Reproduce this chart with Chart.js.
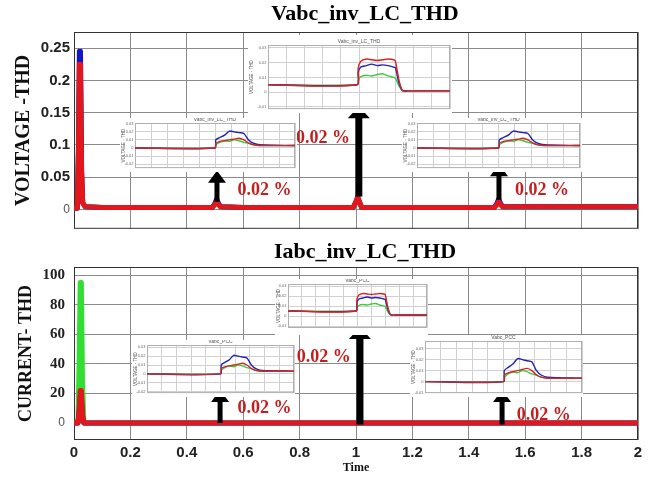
<!DOCTYPE html>
<html>
<head>
<meta charset="utf-8">
<script src="https://cdn.jsdelivr.net/npm/chart.js@4.4.0/dist/chart.umd.min.js"></script>
<style>
  body { margin: 0; background: #fff; }
  #wrap { position: relative; width: 653px; height: 477px; overflow: hidden; }
  #wrap canvas { position: absolute; left: 0; }
  #wrap canvas.inset { background: #fff; }
</style>
</head>
<body>
<div id="wrap">
  <canvas id="voltChart" width="653" height="240" style="top:0"></canvas>
  <canvas id="currChart" width="653" height="237" style="top:240px"></canvas>
</div>
<script>
// shared time axis ticks (s)
const timeTicks = [0, 0.2, 0.4, 0.6, 0.8, 1, 1.2, 1.4, 1.6, 1.8, 2];

// voltage THD, three phases
const voltTime  = [0, 0.012, 0.016, 0.019, 0.023, 0.027, 0.031, 0.04, 0.1, 0.49, 0.5, 0.506, 0.512, 0.52, 0.6, 0.99, 1.0, 1.006, 1.012, 1.02, 1.1, 1.49, 1.5, 1.506, 1.512, 1.52, 2];
const voltRed   = [0.002, 0.002, 0.1, 0.225, 0.225, 0.06, 0.01, 0.004, 0.003, 0.003, 0.008, 0.012, 0.008, 0.004, 0.003, 0.003, 0.012, 0.02, 0.012, 0.003, 0.003, 0.003, 0.008, 0.012, 0.008, 0.004, 0.004];
const voltBlue  = [0.002, 0.002, 0.1, 0.245, 0.245, 0.06, 0.01, 0.004, 0.003, 0.003, 0.01, 0.016, 0.01, 0.004, 0.003, 0.003, 0.012, 0.019, 0.012, 0.003, 0.003, 0.003, 0.01, 0.016, 0.01, 0.004, 0.004];
const voltGreen = [0.002, 0.002, 0.09, 0.2, 0.2, 0.05, 0.01, 0.004, 0.003, 0.003, 0.007, 0.011, 0.007, 0.004, 0.003, 0.003, 0.011, 0.018, 0.011, 0.003, 0.003, 0.003, 0.007, 0.011, 0.007, 0.004, 0.004];
const voltTicks = [0, 0.05, 0.1, 0.15, 0.2, 0.25];

// current THD, three phases
const currTime  = [0, 0.014, 0.018, 0.022, 0.026, 0.03, 0.035, 2];
const currRed   = [0, 0, 8, 22, 22, 6, 0, 0];
const currBlue  = [0, 0, 7, 18, 18, 5, 0, 0];
const currGreen = [0, 0, 40, 95, 95, 30, 0, 0];
const currTicks = [0, 20, 40, 60, 80, 100];

// arrows and "0.02 %" notes (time, base level, tip level)
const noteText = '0.02 %';
const voltArrowTime = [0.507, 1.01, 1.507];
const voltArrowBase = [0.012, 0.02, 0.015];
const voltArrowTip  = [0.06, 0.16, 0.07];
const voltNoteTime  = [0.58, 0.787, 1.564];
const voltNoteLevel = [0.03, 0.11, 0.03];
const currArrowTime = [0.518, 1.014, 1.518];
const currArrowBase = [0, -1, -1];
const currArrowTip  = [22.3, 65, 22.3];
const currNoteTime  = [0.58, 0.79, 1.57];
const currNoteLevel = [10, 44.6, 5.4];

// zoomed views: square pulse (middle) and transient bump (sides), normalised time
const pulseX     = [0, 0.49, 0.495, 0.51, 0.54, 0.57, 0.6, 0.63, 0.66, 0.69, 0.7, 0.72, 0.74, 0.78, 1];
const pulseRed   = [0.005, 0.005, 0.016, 0.021, 0.0225, 0.022, 0.0215, 0.022, 0.0225, 0.022, 0.021, 0.008, 0.001, 0.001, 0.001];
const pulseBlue  = [0.005, 0.005, 0.013, 0.017, 0.018, 0.019, 0.018, 0.0185, 0.018, 0.017, 0.0165, 0.006, 0.001, 0.001, 0.001];
const pulseGreen = [0.005, 0.005, 0.008, 0.0105, 0.0115, 0.011, 0.012, 0.0125, 0.011, 0.01, 0.0095, 0.004, 0.001, 0.001, 0.001];
const bumpX      = [0, 0.5, 0.505, 0.53, 0.56, 0.59, 0.62, 0.65, 0.68, 0.71, 0.74, 0.78, 1];
const bumpRed    = [0, 0, 0.006, 0.008, 0.009, 0.01, 0.011, 0.012, 0.01, 0.006, 0.004, 0.003, 0.003];
const bumpBlue   = [0, 0, 0.01, 0.013, 0.016, 0.021, 0.02, 0.019, 0.018, 0.01, 0.006, 0.004, 0.003];
const bumpGreen  = [0, 0, 0.004, 0.007, 0.009, 0.008, 0.01, 0.009, 0.007, 0.006, 0.004, 0.003, 0.003];
const zoomTicks  = [-0.02, -0.01, 0, 0.01, 0.02, 0.03];

const RED = '#e3161c', BLUE = '#1414c8', GREEN = '#33dd33';
const serif = '"Liberation Serif", "Times New Roman", serif';
const sans = '"Liberation Sans", Arial, sans-serif';

function points(xs, ys) {
    return xs.map((x, i) => ({ x: x, y: ys[i] }));
}

function drawArrow(ctx, x, yBase, yTip, shaft, half, headLen) {
    ctx.fillStyle = '#000';
    ctx.fillRect(x - shaft / 2, yTip + headLen - 1, shaft, yBase - yTip - headLen + 1);
    ctx.beginPath();
    ctx.moveTo(x, yTip);
    ctx.lineTo(x + half, yTip + headLen);
    ctx.lineTo(x - half, yTip + headLen);
    ctx.closePath();
    ctx.fill();
}

// frame, title, arrows and notes on the main plots
const decorPlugin = {
    id: 'decor',
    beforeDatasetsDraw(chart) {
        const { ctx, chartArea: a } = chart;
        ctx.save();
        ctx.strokeStyle = '#333';
        ctx.lineWidth = 1;
        ctx.strokeRect(a.left + 0.5, a.top + 0.5, a.width - 1, a.height - 1);
        ctx.restore();
    },
    afterDatasetsDraw(chart, args, opts) {
        const { ctx, scales: { x, y } } = chart;
        ctx.save();
        opts.arrowTime.forEach((t, i) => {
            const big = i === 1;
            drawArrow(ctx, x.getPixelForValue(t), y.getPixelForValue(opts.arrowBase[i]),
                y.getPixelForValue(opts.arrowTip[i]), big ? 7 : 5, big ? 11 : 9, 12);
        });
        ctx.fillStyle = '#c41e1e';
        ctx.font = 'bold 18px ' + serif;
        ctx.textBaseline = 'middle';
        opts.noteTime.forEach((t, i) => {
            ctx.fillText(noteText, x.getPixelForValue(t), y.getPixelForValue(opts.noteLevel[i]));
        });
        ctx.fillStyle = '#000';
        ctx.font = 'bold 22px ' + serif;
        ctx.textAlign = 'center';
        ctx.fillText(opts.title, 365, opts.titleY);
        ctx.restore();
    }
};

function mainChart(id, cfg) {
    const tickFont = ctx => (ctx.tick && ctx.tick.value === 0)
        ? { family: sans, size: 12 }
        : { family: cfg.tickFamily, size: 15, weight: 'bold' };
    return new Chart(document.getElementById(id), {
        type: 'line',
        data: {
            datasets: [
                { data: points(cfg.time, cfg.red), borderColor: RED },
                { data: points(cfg.time, cfg.blue), borderColor: BLUE },
                { data: points(cfg.time, cfg.green), borderColor: GREEN }
            ]
        },
        options: {
            responsive: false,
            animation: false,
            layout: { padding: { top: cfg.padTop, right: 15, bottom: cfg.padBottom, left: 0 } },
            elements: {
                point: { radius: 0 },
                line: { borderWidth: 5, tension: 0, borderJoinStyle: 'round', borderCapStyle: 'round' }
            },
            plugins: {
                legend: { display: false },
                tooltip: { enabled: false },
                decor: {
                    title: cfg.title, titleY: cfg.titleY,
                    arrowTime: cfg.arrowTime, arrowBase: cfg.arrowBase, arrowTip: cfg.arrowTip,
                    noteTime: cfg.noteTime, noteLevel: cfg.noteLevel
                }
            },
            scales: {
                x: {
                    type: 'linear', min: 0, max: 2,
                    afterBuildTicks: s => { s.ticks = timeTicks.map(v => ({ value: v })); },
                    afterFit: s => { if (cfg.showTime) s.height = 37; },
                    grid: { color: '#8a8a8a', drawTicks: false },
                    border: { display: false },
                    ticks: {
                        display: cfg.showTime, padding: 4, color: '#222',
                        font: { family: sans, size: 15, weight: 'bold' },
                        callback: v => String(v)
                    },
                    title: {
                        display: cfg.showTime, text: 'Time', color: '#111',
                        font: { family: serif, size: 12, weight: 'bold' },
                        padding: { top: 0, bottom: 2 }
                    }
                },
                y: {
                    min: cfg.yMin, max: cfg.yMax,
                    afterBuildTicks: s => { s.ticks = cfg.ticks.map(v => ({ value: v })); },
                    afterFit: s => { s.width = 74; },
                    grid: { color: '#8a8a8a', drawTicks: false },
                    border: { display: false },
                    ticks: {
                        padding: cfg.tickPad,
                        color: ctx => (ctx.tick && ctx.tick.value === 0) ? '#555' : '#222',
                        font: tickFont,
                        callback: v => String(v)
                    },
                    title: {
                        display: true, text: cfg.yTitle, color: '#111',
                        font: { family: serif, size: cfg.yTitleSize, weight: 'bold' },
                        padding: { top: cfg.yTitlePad, bottom: 0 }
                    }
                }
            }
        },
        plugins: [decorPlugin]
    });
}

mainChart('voltChart', {
    time: voltTime, red: voltRed, blue: voltBlue, green: voltGreen,
    ticks: voltTicks, yMin: -0.03, yMax: 0.275,
    padTop: 32, padBottom: 7, showTime: false,
    tickFamily: sans, tickPad: 4,
    yTitle: 'VOLTAGE -THD', yTitleSize: 20, yTitlePad: 12,
    title: 'Vabc_inv_LC_THD', titleY: 14,
    arrowTime: voltArrowTime, arrowBase: voltArrowBase, arrowTip: voltArrowTip,
    noteTime: voltNoteTime, noteLevel: voltNoteLevel
});

mainChart('currChart', {
    time: currTime, red: currRed, blue: currBlue, green: currGreen,
    ticks: currTicks, yMin: -11.5, yMax: 105.5,
    padTop: 27, padBottom: 0, showTime: true,
    tickFamily: serif, tickPad: 9,
    yTitle: 'CURRENT- THD', yTitleSize: 18, yTitlePad: 16,
    title: 'Iabc_inv_LC_THD', titleY: 12,
    arrowTime: currArrowTime, arrowBase: currArrowBase, arrowTip: currArrowTip,
    noteTime: currNoteTime, noteLevel: currNoteLevel
});

// small zoomed views laid over the main plots
const zoomFrame = {
    id: 'zoomFrame',
    beforeDatasetsDraw(chart, args, opts) {
        const { ctx, chartArea: a } = chart;
        ctx.save();
        ctx.strokeStyle = '#b0b0b0';
        ctx.lineWidth = 1;
        ctx.strokeRect(a.left + 0.5, a.top + 0.5, a.width - 1, a.height - 1);
        ctx.fillStyle = '#555';
        ctx.font = '5px ' + sans;
        ctx.textAlign = 'center';
        ctx.textBaseline = 'bottom';
        ctx.fillText(opts.title, (a.left + a.right) / 2, a.top - 0.5);
        ctx.restore();
    }
};

function zoomView(box, shape, title) {
    const c = document.createElement('canvas');
    c.width = box.w;
    c.height = box.h;
    c.className = 'inset';
    c.style.left = box.x + 'px';
    c.style.top = box.y + 'px';
    document.getElementById('wrap').appendChild(c);
    new Chart(c, {
        type: 'line',
        data: {
            datasets: [
                { data: points(shape.x, shape.red), borderColor: '#d42626' },
                { data: points(shape.x, shape.blue), borderColor: '#2323b4' },
                { data: points(shape.x, shape.green), borderColor: '#3ccc3c' }
            ]
        },
        options: {
            responsive: false,
            animation: false,
            layout: { padding: { top: box.top, right: box.right, bottom: box.bottom, left: 0 } },
            elements: { point: { radius: 0 }, line: { borderWidth: 1.4, tension: 0.25 } },
            plugins: { legend: { display: false }, tooltip: { enabled: false }, zoomFrame: { title: title } },
            scales: {
                x: {
                    type: 'linear', min: 0, max: 1,
                    ticks: { display: false, stepSize: 0.1 },
                    grid: { color: '#d0d0d0', drawTicks: false },
                    border: { display: false }
                },
                y: {
                    min: box.yMin, max: box.yMax,
                    afterBuildTicks: s => { s.ticks = zoomTicks.filter(v => v >= box.yMin && v <= box.yMax).map(v => ({ value: v })); },
                    afterFit: s => { s.width = box.left; },
                    grid: { color: '#d0d0d0', drawTicks: false },
                    border: { display: false },
                    ticks: { padding: 1.5, color: '#666', font: { family: sans, size: 4 }, callback: v => String(v) },
                    title: {
                        display: true, text: 'VOLTAGE - THD', color: '#555',
                        font: { family: sans, size: 4.5 }, padding: { top: 1, bottom: 0 }
                    }
                }
            }
        },
        plugins: [zoomFrame]
    });
}

const pulse = { x: pulseX, red: pulseRed, blue: pulseBlue, green: pulseGreen };
const bump = { x: bumpX, red: bumpRed, blue: bumpBlue, green: bumpGreen };

zoomView({ x: 248, y: 35, w: 204, h: 78, left: 20, top: 10, right: 2, bottom: 3, yMin: -0.0115, yMax: 0.032 }, pulse, 'Vabc_inv_LC_THD');
zoomView({ x: 120, y: 118, w: 177, h: 54, left: 15, top: 5, right: 2, bottom: 2, yMin: -0.025, yMax: 0.031 }, bump, 'Vabc_inv_LC_THD');
zoomView({ x: 402, y: 118, w: 180, h: 54, left: 15, top: 5, right: 2, bottom: 2, yMin: -0.025, yMax: 0.031 }, bump, 'Vabc_inv_LC_THD');
zoomView({ x: 275, y: 279, w: 153, h: 56, left: 13, top: 5, right: 1, bottom: 7, yMin: -0.012, yMax: 0.032 }, pulse, 'Vabc_PCC');
zoomView({ x: 132, y: 340, w: 163, h: 57, left: 15, top: 5, right: 1, bottom: 2, yMin: -0.0217, yMax: 0.0326 }, bump, 'Vabc_PCC');
zoomView({ x: 410, y: 335, w: 173, h: 62, left: 15, top: 6, right: 1, bottom: 2, yMin: -0.0105, yMax: 0.037 }, bump, 'Vabc_PCC');
</script>
</body>
</html>
